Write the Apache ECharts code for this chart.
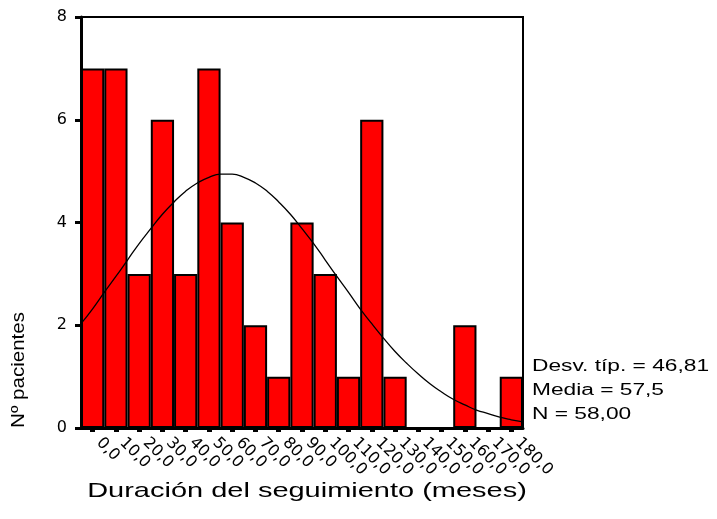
<!DOCTYPE html>
<html><head><meta charset="utf-8">
<script src="https://cdn.jsdelivr.net/npm/echarts@6/dist/echarts.min.js"></script>
<style>html,body{margin:0;padding:0;background:#fff}#c{width:717px;height:519px}</style>
</head><body><div id="c"></div>
<script>
var categories = ["0,0","10,0","20,0","30,0","40,0","50,0","60,0","70,0","80,0","90,0","100,0","110,0","120,0","130,0","140,0","150,0","160,0","170,0","180,0"];
var counts = [7,7,3,6,3,7,4,2,1,4,3,1,6,1,0,0,2,0,1];
var yTicks = [0,2,4,6,8];
var curveX = [-5,0,5,10,15,20,25,30,35,40,45,50,55,57.5,60,65,70,75,80,85,90,95,100,105,110,115,120,125,130,135,140,145,150,155,160,165,170,175,180,185];
var curveY = [2.03,2.32,2.64,2.95,3.27,3.59,3.88,4.16,4.40,4.61,4.77,4.88,4.94,4.94,4.94,4.88,4.77,4.61,4.40,4.16,3.88,3.59,3.27,2.95,2.64,2.32,2.03,1.75,1.49,1.26,1.05,0.86,0.70,0.56,0.45,0.35,0.28,0.21,0.16,0.12];
var statsLines = ["Desv. típ. = 46,81","Media = 57,5","N = 58,00"];
var xTitle = "Duración del seguimiento (meses)";
var yTitle = "Nº pacientes";

var FONT = "Liberation Sans, Arial, sans-serif";
var chart = echarts.init(document.getElementById('c'), null, {renderer:'canvas'});
var curve = curveX.map(function(x,i){return [x, curveY[i]];});
var graphics = statsLines.map(function(t,i){
  return {type:'text', x:532, y:367+i*24, scaleX:1.42,
    style:{text:t, font:'16px '+FONT, fill:'#000', textVerticalAlign:'middle'}};
});
graphics.push({type:'text', x:19, y:370, rotation:Math.PI/2, scaleX:1.08,
  style:{text:yTitle, font:'19px '+FONT, fill:'#000', textAlign:'center', textVerticalAlign:'middle'}});
graphics.push({type:'text', x:307, y:491, scaleX:1.38,
  style:{text:xTitle, font:'21px '+FONT, fill:'#000', textAlign:'center', textVerticalAlign:'middle'}});
chart.setOption({
  animation:false,
  backgroundColor:'#fff',
  grid:{left:81, right:194, top:17, bottom:91, show:true, borderColor:'#000', borderWidth:2, backgroundColor:'transparent'},
  xAxis:[{
    type:'category', data:categories, position:'bottom',
    axisLine:{onZero:false, lineStyle:{color:'#000', width:3}},
    axisTick:{show:true, alignWithLabel:true, length:4, lineStyle:{color:'#000', width:5}},
    axisLabel:{rotate:-45, fontSize:16, color:'#000', fontFamily:'DejaVu Sans', margin:6, padding:[0,0,0,9], interval:0},
    splitLine:{show:false}
  },{
    type:'value', min:-5, max:185, show:false
  }],
  yAxis:{
    type:'value', min:0, max:8, interval:2,
    axisLine:{show:true, onZero:false, lineStyle:{color:'#000', width:3}},
    axisTick:{show:true, inside:false, length:6, lineStyle:{color:'#000', width:3}},
    axisLabel:{fontSize:16, color:'#000', fontFamily:'DejaVu Sans', margin:14,
      formatter:function(v){return yTicks.indexOf(v)>=0 ? String(v) : '';}},
    splitLine:{show:false}
  },
  series:[{
    type:'bar', xAxisIndex:0, data:counts, barWidth:'100%', barCategoryGap:0,
    itemStyle:{color:'#ff0000', borderColor:'#000', borderWidth:2}
  },{
    type:'line', xAxisIndex:1, data:curve, smooth:true, showSymbol:false,
    lineStyle:{color:'#000', width:1.3}, z:5
  }],
  graphic:graphics
});
</script></body></html>
